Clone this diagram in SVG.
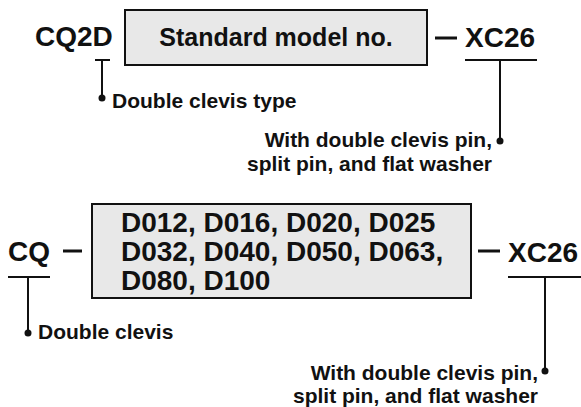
<svg xmlns="http://www.w3.org/2000/svg" width="581" height="407" viewBox="0 0 581 407">
<style>
.code{font-family:"Liberation Sans",Arial,sans-serif;font-weight:bold;font-size:28px;fill:#111}
.lbl{font-family:"Liberation Sans",Arial,sans-serif;font-weight:bold;font-size:25px;fill:#111}
.note{font-family:"Liberation Sans",Arial,sans-serif;font-weight:bold;font-size:21px;fill:#111}
.box{fill:#e8e8e8;stroke:#111;stroke-width:2}
.ln{stroke:#111;stroke-width:2;fill:none}
.dash{stroke:#111;stroke-width:3}
.dot{fill:#111}
</style>
<rect width="581" height="407" fill="#fff"/>
<g id="connectors">
<line class="ln" x1="95" y1="60" x2="110" y2="60"/>
<line class="ln" x1="102" y1="60" x2="102" y2="98"/>
<circle class="dot" cx="102" cy="98" r="3.5"/>
<line class="dash" x1="435" y1="38" x2="457" y2="38"/>
<line class="ln" x1="465" y1="60" x2="537" y2="60"/>
<line class="ln" x1="500" y1="60" x2="500" y2="141"/>
<circle class="dot" cx="500" cy="141" r="3.5"/>
<line class="dash" x1="63" y1="251" x2="82" y2="251"/>
<line class="ln" x1="8" y1="277" x2="50" y2="277"/>
<line class="ln" x1="28" y1="277" x2="28" y2="333"/>
<circle class="dot" cx="28" cy="333" r="3.5"/>
<line class="dash" x1="478" y1="251" x2="500" y2="251"/>
<line class="ln" x1="508" y1="277" x2="581" y2="277"/>
<line class="ln" x1="545" y1="277" x2="545" y2="371"/>
<circle class="dot" cx="545" cy="371" r="3.5"/>
</g>
<g id="cq2d"><text class="code" x="35" y="46">CQ2D</text></g>
<g id="std-box"><rect class="box" x="125" y="10" width="302" height="55"/><text class="lbl" x="276" y="46" text-anchor="middle">Standard model no.</text></g>
<g id="xc26-top"><text class="code" x="465" y="47">XC26</text></g>
<g id="note-type"><text class="note" x="112" y="108">Double clevis type</text></g>
<g id="note-pin-top"><text class="note" x="492" y="147" text-anchor="end">With double clevis pin,</text><text class="note" x="492" y="171" text-anchor="end">split pin, and flat washer</text></g>
<g id="cq"><text class="code" x="8" y="261">CQ</text></g>
<g id="bore-box"><rect class="box" x="92" y="204" width="379" height="94"/><text class="code" x="121" y="232">D012, D016, D020, D025</text><text class="code" x="121" y="261">D032, D040, D050, D063,</text><text class="code" x="121" y="290">D080, D100</text></g>
<g id="xc26-bottom"><text class="code" x="508" y="262">XC26</text></g>
<g id="note-clevis"><text class="note" x="38" y="339">Double clevis</text></g>
<g id="note-pin-bottom"><text class="note" x="538" y="380" text-anchor="end">With double clevis pin,</text><text class="note" x="538" y="403" text-anchor="end">split pin, and flat washer</text></g>
</svg>
